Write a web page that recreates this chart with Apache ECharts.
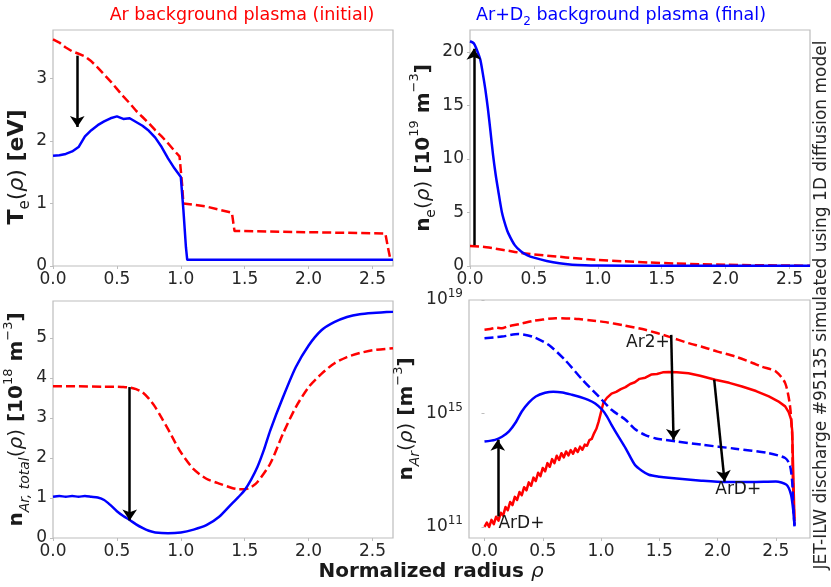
<!DOCTYPE html>
<html>
<head>
<meta charset="utf-8">
<script src="https://cdn.jsdelivr.net/npm/echarts@6/dist/echarts.min.js"></script>
<style>
  html, body { margin: 0; padding: 0; background: #ffffff; }
  #chart { width: 831px; height: 587px; }
</style>
</head>
<body>
<div id="chart"></div>
<script>
// ---------- data ----------
// Electron temperature T_e [eV]
const teInitX = [0, 0.05, 0.1, 0.15, 0.2, 0.25, 0.3, 0.35, 0.4, 0.45, 0.5, 0.55, 0.6, 0.65, 0.7, 0.75, 0.8, 0.85, 0.9, 0.95, 0.99, 1.01, 1.02, 1.2, 1.4, 1.41, 1.42, 2.0, 2.6, 2.62, 2.64];
const teInit  = [3.62, 3.57, 3.49, 3.43, 3.39, 3.35, 3.27, 3.17, 3.06, 2.95, 2.83, 2.71, 2.6, 2.48, 2.38, 2.28, 2.17, 2.07, 1.96, 1.84, 1.75, 1.3, 1.0, 0.95, 0.85, 0.7, 0.56, 0.54, 0.52, 0.3, 0.1];
const teFinX  = [0, 0.05, 0.1, 0.15, 0.2, 0.25, 0.3, 0.35, 0.4, 0.45, 0.5, 0.55, 0.6, 0.65, 0.7, 0.75, 0.8, 0.85, 0.9, 0.95, 1.0, 1.02, 1.04, 1.05, 2.66];
const teFin   = [1.76, 1.77, 1.79, 1.83, 1.9, 2.07, 2.17, 2.25, 2.31, 2.36, 2.39, 2.35, 2.36, 2.3, 2.24, 2.16, 2.05, 1.9, 1.72, 1.56, 1.42, 0.9, 0.3, 0.1, 0.1];

// Electron density n_e [1e19 m^-3]
const neInitX = [0, 0.1, 0.2, 0.3, 0.4, 0.5, 0.6, 0.7, 0.8, 1.0, 1.2, 1.4, 1.6, 1.8, 2.0, 2.2, 2.4, 2.66];
const neInit  = [1.87, 1.8, 1.62, 1.42, 1.22, 1.08, 0.97, 0.86, 0.75, 0.57, 0.44, 0.33, 0.24, 0.17, 0.12, 0.08, 0.05, 0.03];
const neFinX  = [0, 0.03, 0.05, 0.08, 0.1, 0.12, 0.14, 0.16, 0.18, 0.2, 0.22, 0.25, 0.28, 0.3, 0.35, 0.4, 0.45, 0.5, 0.6, 0.7, 0.8, 0.9, 1.0, 1.5, 2.66];
const neFin   = [21.0, 20.8, 20.3, 19.3, 18.0, 16.5, 14.7, 12.6, 10.4, 8.6, 7.1, 5.0, 3.7, 3.05, 1.95, 1.35, 1.0, 0.78, 0.47, 0.25, 0.12, 0.06, 0.04, 0.02, 0.02];

// Total argon density n_Ar,total [1e18 m^-3]
const nArInitX = [0, 0.2, 0.4, 0.5, 0.55, 0.6, 0.65, 0.7, 0.75, 0.8, 0.85, 0.9, 0.95, 1.0, 1.1, 1.2, 1.3, 1.4, 1.45, 1.5, 1.55, 1.6, 1.7, 1.8, 1.9, 2.0, 2.1, 2.2, 2.3, 2.4, 2.5, 2.66];
const nArInit  = [3.79, 3.79, 3.78, 3.78, 3.77, 3.76, 3.72, 3.64, 3.48, 3.27, 3.0, 2.72, 2.42, 2.14, 1.72, 1.48, 1.36, 1.25, 1.22, 1.22, 1.27, 1.4, 1.86, 2.61, 3.27, 3.77, 4.1, 4.36, 4.52, 4.62, 4.69, 4.74];
const nArFinX  = [0, 0.05, 0.1, 0.15, 0.2, 0.25, 0.3, 0.35, 0.4, 0.45, 0.5, 0.55, 0.6, 0.65, 0.7, 0.75, 0.8, 0.9, 1.0, 1.1, 1.2, 1.3, 1.4, 1.45, 1.5, 1.55, 1.6, 1.65, 1.7, 1.8, 1.9, 2.0, 2.1, 2.2, 2.3, 2.4, 2.5, 2.66];
const nArFin   = [1.03, 1.05, 1.03, 1.05, 1.03, 1.05, 1.03, 1.01, 0.95, 0.82, 0.67, 0.55, 0.45, 0.34, 0.25, 0.18, 0.14, 0.12, 0.14, 0.21, 0.32, 0.53, 0.86, 1.02, 1.2, 1.46, 1.78, 2.2, 2.69, 3.52, 4.27, 4.81, 5.19, 5.39, 5.52, 5.59, 5.62, 5.65];

// Ion densities, stored as log10(n / m^-3)
const ar2InitX   = [0, 0.05, 0.1, 0.15, 0.2, 0.3, 0.41, 0.5, 0.61, 0.7, 0.81, 0.9, 1.04, 1.2, 1.38, 1.58, 1.75, 1.86, 2.0, 2.15, 2.3, 2.38, 2.5, 2.58, 2.62, 2.64, 2.645, 2.66];
const ar2InitLog = [17.95, 17.98, 18.02, 18.0, 18.07, 18.15, 18.26, 18.31, 18.36, 18.35, 18.33, 18.29, 18.22, 18.1, 17.95, 17.71, 17.48, 17.36, 17.18, 17.01, 16.78, 16.65, 16.48, 16.07, 15.31, 14.25, 12.84, 11.08];
const ar2FinX    = [0, 0.15, 0.29, 0.41, 0.55, 0.69, 0.84, 0.98, 1.09, 1.21, 1.29, 1.38, 1.47, 1.64, 1.86, 2.15, 2.44, 2.58, 2.62, 2.64, 2.65, 2.66];
const ar2FinLog  = [17.65, 17.71, 17.8, 17.71, 17.42, 16.89, 16.19, 15.6, 15.13, 14.78, 14.45, 14.24, 14.12, 14.02, 13.9, 13.76, 13.6, 13.43, 13.19, 12.6, 11.67, 11.05];
const ardInitX   = [0, 0.02, 0.04, 0.06, 0.08, 0.1, 0.12, 0.14, 0.16, 0.18, 0.2, 0.22, 0.24, 0.26, 0.28, 0.3, 0.32, 0.34, 0.36, 0.38, 0.4, 0.42, 0.44, 0.46, 0.48, 0.5, 0.52, 0.54, 0.56, 0.58, 0.6, 0.62, 0.64, 0.66, 0.68, 0.7, 0.72, 0.74, 0.76, 0.78, 0.8, 0.82, 0.84, 0.86, 0.88, 0.9, 0.92, 0.94, 0.96, 0.98, 1.0, 1.02,
                    1.05, 1.09, 1.13, 1.17, 1.21, 1.25, 1.29, 1.33, 1.38, 1.43, 1.48, 1.53, 1.58, 1.65, 1.75, 1.85, 1.98, 2.1, 2.21, 2.33, 2.44, 2.52, 2.58, 2.61, 2.63, 2.64, 2.65, 2.66];
const ardInitLog = [11.0, 11.15, 11.0, 11.25, 11.1, 11.36, 11.22, 11.5, 11.4, 11.7, 11.59, 11.88, 11.77, 12.06, 11.95, 12.23, 12.12, 12.4, 12.29, 12.57, 12.45, 12.74, 12.62, 12.91, 12.79, 13.08, 12.96, 13.25, 13.12, 13.39, 13.25, 13.51, 13.36, 13.6, 13.45, 13.66, 13.52, 13.71, 13.58, 13.77, 13.64, 13.83, 13.72, 13.9, 13.86, 14.06, 14.1, 14.3, 14.46, 14.72, 15.05, 15.38,
                    15.55, 15.7, 15.76, 15.86, 15.93, 16.04, 16.1, 16.22, 16.26, 16.37, 16.39, 16.45, 16.46, 16.45, 16.42, 16.33, 16.19, 16.08, 15.95, 15.79, 15.6, 15.43, 15.25, 15.05, 14.8, 14.4, 12.8, 11.2];
const ardFinX    = [0, 0.09, 0.15, 0.21, 0.27, 0.32, 0.38, 0.44, 0.52, 0.59, 0.67, 0.75, 0.82, 0.89, 0.95, 1.01, 1.05, 1.09, 1.15, 1.21, 1.29, 1.35, 1.41, 1.5, 1.58, 1.86, 2.07, 2.29, 2.5, 2.59, 2.63, 2.65, 2.66];
const ardFinLog  = [14.01, 14.07, 14.18, 14.37, 14.7, 15.07, 15.38, 15.6, 15.73, 15.77, 15.74, 15.66, 15.58, 15.48, 15.35, 15.13, 14.9, 14.6, 14.18, 13.78, 13.19, 12.98, 12.84, 12.77, 12.73, 12.63, 12.58, 12.58, 12.6, 12.49, 12.14, 11.55, 11.02];

// Arrows [x0, y0, x1, y1] from initial to final state
const arrowTe  = [0.19, 3.36, 0.19, 2.22];
const arrowNe  = [0.03, 1.95, 0.03, 20.3];
const arrowNAr = [0.6, 3.77, 0.6, 0.44];
const ionArrowsLog = [[0.114, 11.37, 0.114, 14.07], [1.602, 17.77, 1.622, 14.07], [1.971, 16.19, 2.06, 12.6]];
const ionNotes = [
  { text: 'Ar2+', x: 1.59, yLog: 17.5, align: 'right' },
  { text: 'ArD+', x: 1.98, yLog: 12.3, align: 'left' },
  { text: 'ArD+', x: 0.12, yLog: 11.12, align: 'left' }
];

// Tick values
const rhoTicks = [0, 0.5, 1.0, 1.5, 2.0, 2.5];
const teTicks = [0, 1, 2, 3];
const neTicks = [0, 5, 10, 15, 20];
const nArTicks = [0, 1, 2, 3, 4, 5];
const ionTicks = [1e11, 1e15, 1e19];

// ---------- drawing ----------
const FONT = 'DejaVu Sans';
const RED = '#ff0000';
const BLUE = '#0000ff';
const INK = '#1a1a1a';
const TICK_INK = '#262626';
const SPINE = '#bdbdbd';

const pow10 = v => Math.pow(10, v);
const zip = (xs, ys, f) => xs.map((x, i) => [x, f ? f(ys[i]) : ys[i]]);

const labelStyle = { fontFamily: FONT, fontSize: 17, color: TICK_INK };

function makeNameRich(size) {
  const sub = Math.round(size * 0.7);
  return {
    b:   { fontFamily: FONT, fontSize: size, fontWeight: 'bold', color: INK, lineHeight: 30 },
    r:   { fontFamily: FONT, fontSize: size, color: INK, lineHeight: 30 },
    ri:  { fontFamily: FONT, fontSize: size, fontStyle: 'italic', color: INK, lineHeight: 30 },
    sub: { fontFamily: FONT, fontSize: sub, color: INK, lineHeight: 16, verticalAlign: 'bottom' },
    subi:{ fontFamily: FONT, fontSize: sub, fontStyle: 'italic', color: INK, lineHeight: 16, verticalAlign: 'bottom' },
    sup: { fontFamily: FONT, fontSize: sub - 1, color: INK, lineHeight: 15, verticalAlign: 'top' }
  };
}

function xAxisFor(gridIndex, min, max) {
  return {
    type: 'value', gridIndex, min, max,
    axisLine: { show: false },
    splitLine: { show: false },
    axisTick: { show: true, length: 3, lineStyle: { color: SPINE }, customValues: rhoTicks },
    axisLabel: Object.assign({ margin: 5, customValues: rhoTicks, formatter: v => Number(v).toFixed(1) }, labelStyle)
  };
}

function yAxisFor(gridIndex, min, max, ticks, name, nameGap, nameSize, padding) {
  return {
    type: 'value', gridIndex, min, max,
    axisLine: { show: false },
    splitLine: { show: false },
    axisTick: { show: true, length: 3, lineStyle: { color: SPINE }, customValues: ticks },
    axisLabel: Object.assign({ margin: 6, customValues: ticks }, labelStyle),
    name, nameLocation: 'middle', nameRotate: 90, nameGap,
    nameTextStyle: { rich: makeNameRich(nameSize), padding: padding || 0 }
  };
}

function line(name, data, color, dashed, axisIndex, extra) {
  return Object.assign({
    name, type: 'line', data,
    xAxisIndex: axisIndex, yAxisIndex: axisIndex,
    showSymbol: false, symbol: 'none', smooth: false, silent: true,
    lineStyle: { color, width: 2.5, type: dashed ? [9, 4] : 'solid', cap: 'butt', join: 'round' },
    z: 2
  }, extra || {});
}

// gentle spline through the sampled profile points
const SMOOTH = { smooth: 0.25 };

function arrowLine(axisIndex, pairs) {
  return {
    type: 'line', data: [], xAxisIndex: axisIndex, yAxisIndex: axisIndex, silent: true,
    markLine: {
      silent: true, animation: false,
      symbol: ['none', 'arrow'], symbolSize: 11,
      label: { show: false },
      lineStyle: { color: '#000', width: 2.5, type: 'solid' },
      emphasis: { disabled: true },
      data: pairs.map(p => [{ coord: [p[0], p[1]] }, { coord: [p[2], p[3]] }])
    },
    z: 5
  };
}

const chart = echarts.init(document.getElementById('chart'), null, { renderer: 'canvas' });

const option = {
  backgroundColor: '#ffffff',
  animation: false,
  textStyle: { fontFamily: FONT },
  grid: [
    { left: 53, top: 30, width: 340, height: 236 },
    { left: 470, top: 30, width: 340, height: 236 },
    { left: 53, top: 301, width: 340, height: 237 },
    { left: 469, top: 300, width: 341, height: 238 }
  ].map(g => Object.assign({ show: true, borderColor: SPINE, borderWidth: 1.2, backgroundColor: 'transparent', containLabel: false, outerBoundsMode: 'none' }, g)),
  xAxis: [
    xAxisFor(0, 0, 2.66),
    xAxisFor(1, 0, 2.66),
    xAxisFor(2, 0, 2.66),
    xAxisFor(3, -0.133, 2.793)
  ],
  yAxis: [
    yAxisFor(0, 0, 3.77, teTicks, '{b|T}{sub|e}{r|(}{ri|ρ}{r|)}{b| [eV]}', 15, 22, [0, 38, 0, 0]),
    yAxisFor(1, 0, 22.05, neTicks, '{b|n}{sub|e}{r|(}{ri|ρ}{r|)}{b| [10}{sup|19}{b| m}{sup|−3}{b|]}', 19, 20),
    yAxisFor(2, 0, 5.92, nArTicks, '{b|n}{subi|Ar, total}{r|(}{ri|ρ}{r|)}{b| [10}{sup|18}{b| m}{sup|−3}{b|]}', 14, 20),
    {
      type: 'log', logBase: 10, gridIndex: 3, min: pow10(10.61), max: 1e19,
      axisLine: { show: false },
      splitLine: { show: false },
      minorTick: { show: false },
      axisTick: { show: true, length: 3, lineStyle: { color: SPINE }, customValues: ionTicks },
      axisLabel: Object.assign({
        margin: 6, customValues: ionTicks,
        formatter: v => '{m|10}{e|' + Math.round(Math.log10(v)) + '}',
        rich: {
          m: { fontFamily: FONT, fontSize: 17, color: TICK_INK, lineHeight: 24 },
          e: { fontFamily: FONT, fontSize: 12, color: TICK_INK, lineHeight: 13, verticalAlign: 'top' }
        }
      }, labelStyle),
      name: '{b|n}{subi|Ar}{r|(}{ri|ρ}{r|)}{b| [m}{sup|−3}{b|]}', nameLocation: 'middle', nameRotate: 90, nameGap: 43,
      nameTextStyle: { rich: makeNameRich(20) }
    }
  ],
  series: [
    line('Te initial', zip(teInitX, teInit), RED, true, 0),
    line('Te final', zip(teFinX, teFin), BLUE, false, 0),
    arrowLine(0, [arrowTe]),

    line('ne initial', zip(neInitX, neInit), RED, true, 1, SMOOTH),
    line('ne final', zip(neFinX, neFin), BLUE, false, 1, SMOOTH),
    arrowLine(1, [arrowNe]),

    line('nAr initial', zip(nArInitX, nArInit), RED, true, 2, SMOOTH),
    line('nAr final', zip(nArFinX, nArFin), BLUE, false, 2, SMOOTH),
    arrowLine(2, [arrowNAr]),

    line('Ar2+ initial', zip(ar2InitX, ar2InitLog, pow10), RED, true, 3, SMOOTH),
    line('ArD+ initial', zip(ardInitX, ardInitLog, pow10), RED, false, 3),
    line('Ar2+ final', zip(ar2FinX, ar2FinLog, pow10), BLUE, true, 3, SMOOTH),
    line('ArD+ final', zip(ardFinX, ardFinLog, pow10), BLUE, false, 3, Object.assign({
      markPoint: {
        silent: true, animation: false,
        symbol: 'circle', symbolSize: 0,
        data: ionNotes.map(n => ({
          coord: [n.x, pow10(n.yLog)],
          label: {
            show: true, formatter: n.text, position: 'inside',
            align: n.align, verticalAlign: 'middle',
            fontFamily: FONT, fontSize: 17, color: INK
          }
        }))
      }
    }, SMOOTH)),
    arrowLine(3, ionArrowsLog.map(a => [a[0], pow10(a[1]), a[2], pow10(a[3])]))
  ],
  graphic: [
    {
      type: 'text', x: 242, y: 15, silent: true,
      style: { text: 'Ar background plasma (initial)', fill: RED, fontFamily: FONT, fontSize: 17.5,
               align: 'center', verticalAlign: 'middle', textAlign: 'center', textVerticalAlign: 'middle' }
    },
    {
      type: 'text', x: 621, y: 15, silent: true,
      style: {
        text: '{t|Ar+D}{s|2}{t| background plasma (final)}',
        rich: {
          t: { fontFamily: FONT, fontSize: 17.5, fill: BLUE, color: BLUE, lineHeight: 26 },
          s: { fontFamily: FONT, fontSize: 12, fill: BLUE, color: BLUE, lineHeight: 14, verticalAlign: 'bottom' }
        },
        align: 'center', verticalAlign: 'middle', textAlign: 'center', textVerticalAlign: 'middle'
      }
    },
    {
      type: 'text', x: 822, y: 305, rotation: Math.PI / 2, silent: true,
      style: { text: 'JET-ILW discharge #95135 simulated using 1D diffusion model', fill: TICK_INK,
               fontFamily: FONT, fontSize: 17,
               align: 'center', verticalAlign: 'middle', textAlign: 'center', textVerticalAlign: 'middle' }
    },
    {
      type: 'text', x: 431, y: 572, silent: true,
      style: {
        text: '{b|Normalized radius }{i|ρ}',
        rich: {
          b: { fontFamily: FONT, fontSize: 20, fontWeight: 'bold', fill: INK, color: INK },
          i: { fontFamily: FONT, fontSize: 20, fontStyle: 'italic', fill: INK, color: INK }
        },
        align: 'center', verticalAlign: 'middle', textAlign: 'center', textVerticalAlign: 'middle'
      }
    }
  ]
};

chart.setOption(option);
</script>
</body>
</html>
